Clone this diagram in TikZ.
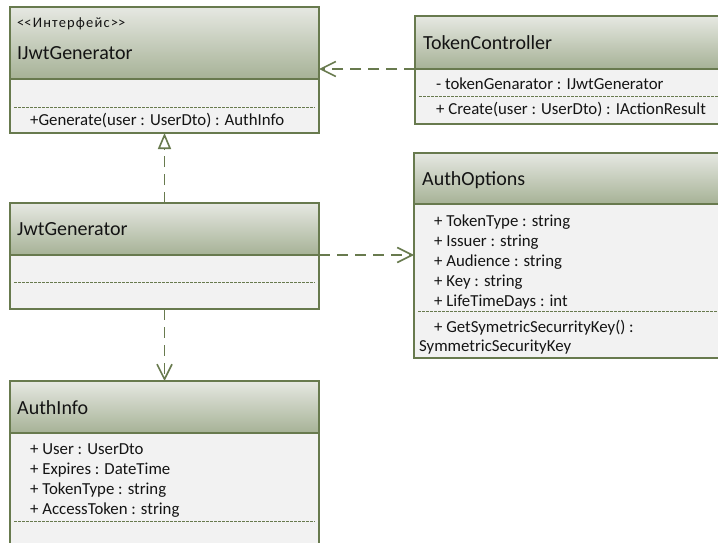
\documentclass[tikz,border=0pt]{standalone}
\usepackage{fontspec}
\setmainfont{Carlito}
\newfontfamily\stereofont{Carlito}[LetterSpace=8]
\usetikzlibrary{arrows.meta}

\definecolor{umlline}{RGB}{104,122,78}
\definecolor{hdtop}{RGB}{230,232,226}
\definecolor{hdbot}{RGB}{166,178,150}
\definecolor{bodyfill}{RGB}{242,242,242}
\definecolor{txt}{RGB}{20,20,20}

\begin{document}
\begin{tikzpicture}[x=1pt,y=-1pt,
  header/.style={draw=umlline, line width=2pt, top color=hdtop, bottom color=hdbot,
    anchor=north west, inner sep=0pt, outer sep=0pt},
  compartment/.style={draw=umlline, line width=2pt, fill=bodyfill,
    anchor=north west, inner sep=0pt, outer sep=0pt},
  title/.style={anchor=base west, inner sep=0pt, text=txt, font=\fontsize{20}{22}\selectfont},
  stereo/.style={anchor=base west, inner sep=0pt, text=txt, font=\stereofont\fontsize{14.5}{17}\selectfont},
  member/.style={anchor=base west, inner sep=0pt, text=txt, font=\fontsize{16.8}{19}\selectfont},
  separator/.style={draw=umlline, line width=0.9pt, dash pattern=on 2.5pt off 1.5pt},
  dependency/.style={draw=umlline, line width=1.8pt, dash pattern=on 11pt off 7pt,
    -{Straight Barb[length=15pt,width=15pt,line width=1.6pt]}},
  realization/.style={draw=umlline, line width=1.8pt, dash pattern=on 11pt off 7pt,
    -{Triangle[length=16pt,width=13pt,line width=1.6pt,fill=white]}}
]
\useasboundingbox (0,0) rectangle (718,543);
\clip (0,0) rectangle (718,543);
\fill[white] (0,0) rectangle (718,543);

% ---- IJwtGenerator (interface)
\node[compartment, minimum width=309pt, minimum height=54pt] (ijwtB) at (10,79) {};
\node[header, minimum width=309pt, minimum height=72pt] (ijwtH) at (10,7) {};
\node[stereo] (ijwtS) at (17,27.5) {<\kern0pt<Интерфейс>\kern0pt>};
\node[title] (ijwtN) at (17,59.5) {IJwtGenerator};
\draw[separator] (14,107) -- (315,107);
\node[member] (ijwtM) at (30,125.5) {+Generate(user : UserDto) : AuthInfo};

% ---- TokenController
\node[compartment, minimum width=400pt, minimum height=55pt] (tcB) at (415,69) {};
\node[header, minimum width=400pt, minimum height=53pt] (tcH) at (415,16) {};
\node[title] (tcN) at (423,49.5) {TokenController};
\node[member] (tcA) at (436,89.5) {- tokenGenarator : IJwtGenerator};
\draw[separator] (419,96) -- (718,96);
\node[member] (tcM) at (436,114.5) {+ Create(user : UserDto) : IActionResult};

% ---- JwtGenerator
\node[compartment, minimum width=309pt, minimum height=54pt] (jwtB) at (10,255) {};
\node[header, minimum width=309pt, minimum height=52pt] (jwtH) at (10,203) {};
\node[title] (jwtN) at (17,235.5) {JwtGenerator};
\draw[separator] (14,282) -- (315,282);

% ---- AuthOptions
\node[compartment, minimum width=400pt, minimum height=154pt] (aoB) at (414,204) {};
\node[header, minimum width=400pt, minimum height=51pt] (aoH) at (414,153) {};
\node[title] (aoN) at (422,185.5) {AuthOptions};
\node[member] (ao1) at (434,226.5) {+ TokenType : string};
\node[member] (ao2) at (434,246.5) {+ Issuer : string};
\node[member] (ao3) at (434,266.5) {+ Audience : string};
\node[member] (ao4) at (434,286.5) {+ Key : string};
\node[member] (ao5) at (434,306.5) {+ LifeTimeDays : int};
\draw[separator] (418,311.5) -- (718,311.5);
\node[member] (ao6) at (434,332.5) {+ GetSymetricSecurrityKey() :};
\node[member] (ao7) at (419,351.5) {SymmetricSecurityKey};

% ---- AuthInfo
\node[compartment, minimum width=309pt, minimum height=200pt] (aiB) at (10,433) {};
\node[header, minimum width=309pt, minimum height=52pt] (aiH) at (10,381) {};
\node[title] (aiN) at (17,414.5) {AuthInfo};
\node[member] (ai1) at (30,454.5) {+ User : UserDto};
\node[member] (ai2) at (30,474.5) {+ Expires : DateTime};
\node[member] (ai3) at (30,494.5) {+ TokenType : string};
\node[member] (ai4) at (30,514.5) {+ AccessToken : string};
\draw[separator] (14,521.5) -- (315,521.5);

% ---- relations
\draw[dependency] (tcH.south west) -- (tcH.south west -| ijwtH.east);
\draw[realization] (jwtH.north) -- (ijwtB.south);
\draw[dependency] (jwtH.south east) -- (jwtH.south east -| aoH.west);
\draw[dependency] (jwtB.south) -- (aiH.north);
\end{tikzpicture}
\end{document}
